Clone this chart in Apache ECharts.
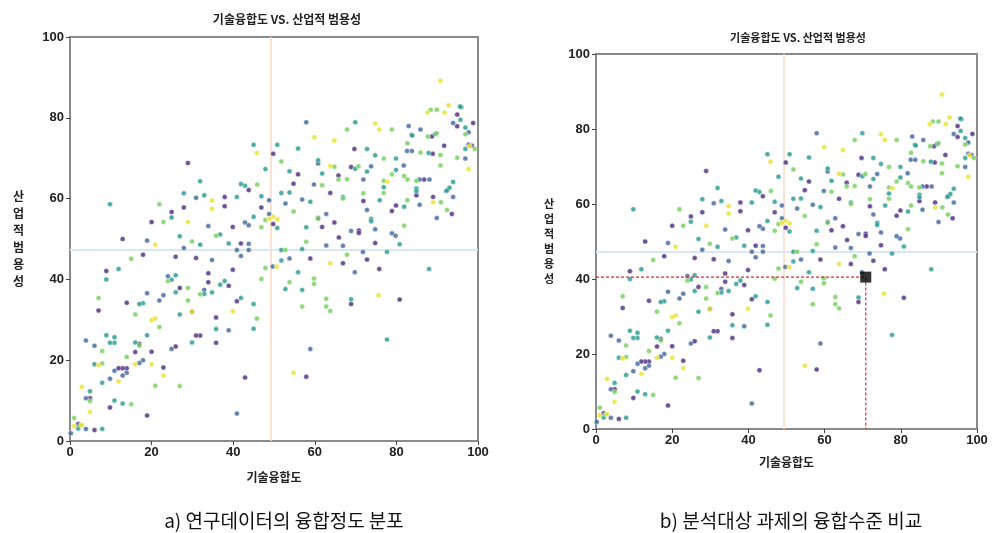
<!DOCTYPE html>
<html><head><meta charset="utf-8">
<script src="https://cdn.jsdelivr.net/npm/echarts@6/dist/echarts.min.js"></script>
<style>html,body{margin:0;padding:0;background:#fff}#c{width:997px;height:533px}</style>
</head><body><div id="c"></div>
<script>
const chartTitle = '기술융합도 VS. 산업적 범용성';
const xName = '기술융합도';
const yName = '산업적범용성';
const captions = ['a) 연구데이터의 융합정도 분포', 'b) 분석대상 과제의 융합수준 비교'];
const xTicks = [0, 20, 40, 60, 80, 100];
const meanX = 49.3;
const meanY = 47.3;
const targetPoint = [70.8, 40.5];

const purplePts = [[94.9,77.9],[94.9,80.8],[98.8,78.7],[88.7,75.4],[69.7,72.3],[88.9,71.1],[91.7,73.1],[98.5,73.1],[93.6,56.2],[89.0,60.4],[86.8,64.7],[84.9,60.8],[78.9,56.9],[79.9,58.3],[71.9,59.4],[74.8,49.0],[75.8,42.6],[80.8,35.0],[72.8,44.9],[70.8,52.1],[70.8,51.5],[68.9,33.9],[68.9,67.8],[66.9,44.0],[65.8,65.7],[65.9,50.4],[64.8,54.1],[63.8,61.4],[61.8,53.0],[60.8,55.2],[58.9,45.2],[57.9,15.9],[55.9,66.0],[54.8,63.7],[49.8,71.1],[49.8,53.7],[46.9,57.8],[43.8,62.1],[42.9,15.7],[41.9,48.9],[40.9,34.6],[39.9,53.0],[39.9,42.4],[38.9,38.4],[37.9,60.4],[37.9,58.1],[35.8,30.6],[35.8,24.3],[33.9,41.5],[33.9,39.3],[31.9,26.1],[30.9,45.3],[30.9,26.1],[29.9,32.0],[28.9,68.8],[27.9,57.8],[26.9,37.9],[25.9,45.6],[25.9,23.4],[24.9,56.7],[22.9,18.2],[20.0,54.2],[20.0,22.1],[18.9,6.3],[17.9,46.1],[17.0,24.0],[16.0,22.0],[13.9,34.2],[13.9,18.0],[12.9,50.0],[12.9,18.0],[11.9,18.0],[9.8,8.3],[8.9,42.1],[7.0,32.3],[6.0,2.7],[4.9,10.6],[2.0,4.2]];
const bluePts = [[93.9,78.7],[97.7,76.4],[83.0,78.0],[85.9,77.1],[57.9,78.9],[82.6,71.8],[83.8,71.8],[96.9,69.9],[97.7,73.4],[92.2,61.9],[93.9,60.4],[89.9,55.2],[88.1,64.7],[85.7,64.7],[85.7,58.5],[79.8,50.8],[78.9,51.4],[81.8,68.2],[73.8,68.0],[71.9,64.7],[72.8,57.2],[74.8,52.4],[71.8,46.8],[69.8,41.8],[68.9,52.0],[66.9,48.3],[62.8,56.2],[62.8,48.4],[60.8,68.7],[59.8,63.5],[58.9,22.8],[56.9,59.8],[53.8,45.2],[52.8,58.8],[48.8,56.2],[48.8,59.6],[49.7,43.2],[43.8,53.4],[43.8,48.8],[43.8,47.3],[42.9,54.1],[41.9,45.8],[40.9,47.3],[40.9,6.8],[38.9,27.4],[34.8,44.8],[33.9,53.2],[32.9,37.4],[30.9,60.2],[27.9,47.8],[24.9,22.8],[24.0,40.8],[22.9,36.1],[21.9,34.8],[18.9,49.6],[18.9,36.6],[17.9,20.0],[17.0,19.3],[13.9,16.9],[12.9,16.2],[10.9,17.4],[9.8,15.4],[6.0,23.6],[3.9,24.9],[3.9,10.6],[3.9,3.0],[0.2,1.9]];
const tealPts = [[95.9,82.6],[95.6,82.8],[95.7,79.5],[96.9,77.6],[89.5,76.0],[83.7,75.8],[83.9,75.6],[69.9,78.9],[72.8,72.3],[87.9,71.3],[96.9,72.3],[92.4,62.0],[93.0,62.7],[93.9,64.1],[84.9,62.5],[84.9,61.8],[81.9,58.0],[80.8,48.7],[79.9,67.1],[79.9,69.9],[76.9,62.8],[75.9,59.6],[74.8,70.7],[72.8,66.7],[73.8,55.0],[73.8,54.4],[77.7,46.8],[77.7,25.1],[88.0,42.6],[68.9,35.1],[69.9,67.4],[66.9,60.4],[61.8,66.2],[60.8,69.5],[58.9,59.2],[57.9,52.9],[56.9,47.5],[56.9,37.4],[55.9,72.4],[55.9,41.8],[53.8,66.8],[53.8,61.5],[52.8,37.6],[51.8,61.4],[51.8,47.3],[51.8,44.7],[50.8,73.3],[50.8,52.7],[47.9,67.3],[46.9,60.6],[45.0,73.3],[45.0,55.5],[45.0,33.9],[45.0,27.8],[42.9,63.2],[41.9,63.6],[41.9,35.4],[40.9,60.4],[38.9,48.9],[37.9,39.6],[36.8,51.1],[36.8,38.7],[35.8,27.7],[34.8,36.8],[32.9,60.8],[32.9,36.4],[31.9,64.3],[31.9,48.6],[29.9,24.4],[27.9,61.3],[26.9,50.7],[26.9,31.3],[25.9,41.0],[25.9,36.8],[24.9,55.3],[24.9,39.9],[18.9,26.2],[17.9,34.1],[17.0,33.9],[16.0,24.4],[12.9,9.3],[11.9,42.6],[10.9,25.7],[10.9,24.3],[10.9,10.0],[9.8,58.6],[9.8,24.3],[8.9,40.0],[8.9,26.2],[7.9,14.4],[7.9,3.0],[6.0,19.0],[4.9,12.3],[2.0,3.1]];
const greenPts = [[89.9,82.0],[88.4,82.0],[96.9,75.9],[89.9,76.2],[87.7,75.4],[78.9,77.1],[67.9,77.1],[82.7,73.7],[85.9,71.4],[90.8,70.8],[94.9,70.1],[99.2,72.3],[90.8,68.2],[90.9,59.1],[92.4,57.2],[84.9,64.4],[82.7,64.7],[81.9,53.3],[81.9,65.6],[78.9,66.0],[76.9,64.4],[76.9,61.4],[76.9,69.9],[71.9,61.3],[67.9,46.1],[67.9,64.8],[70.7,68.0],[66.9,60.0],[65.8,64.7],[64.8,67.9],[62.8,35.2],[62.8,33.3],[63.8,32.2],[61.8,63.3],[60.8,55.0],[59.8,40.2],[59.8,38.9],[57.9,49.3],[56.9,33.3],[54.8,56.8],[53.8,39.3],[52.8,47.3],[51.8,69.2],[47.9,54.7],[47.9,42.8],[46.9,52.9],[46.9,40.1],[45.9,63.5],[45.8,30.3],[35.8,50.8],[31.9,36.3],[29.9,49.4],[28.9,37.9],[28.9,34.8],[26.9,13.6],[24.0,39.6],[22.9,54.2],[21.9,58.6],[21.9,28.2],[20.9,13.7],[17.0,23.6],[16.0,31.3],[15.0,45.1],[15.0,9.1],[13.9,20.8],[7.9,22.3],[7.9,19.2],[7.0,35.4],[4.9,9.9],[1.0,5.7],[2.5,3.9],[82.7,59.6]];
const yellowPts = [[90.8,89.2],[92.8,83.1],[91.8,81.3],[87.6,81.3],[75.8,77.1],[74.8,78.6],[59.9,75.2],[64.8,74.4],[98.0,73.0],[97.7,67.3],[89.0,59.1],[77.8,64.2],[75.6,36.1],[63.8,68.1],[63.8,44.0],[54.8,16.9],[50.8,54.9],[49.8,55.5],[48.8,55.0],[50.7,43.2],[45.8,71.3],[39.9,32.1],[34.8,59.5],[34.8,57.5],[29.9,32.1],[28.9,54.2],[22.9,16.2],[20.9,48.6],[20.9,30.3],[20.0,29.9],[20.0,19.0],[16.0,19.0],[11.9,14.7],[7.0,18.8],[4.9,7.2],[2.9,13.4],[2.9,4.0],[1.0,3.7]];

const groups = [
  {data: purplePts, color: '#4b2d7f'},
  {data: bluePts, color: '#43679c'},
  {data: tealPts, color: '#2a9a8f'},
  {data: greenPts, color: '#78cd5e'},
  {data: yellowPts, color: '#e9e230'}
];

const KR = '"Noto Sans CJK KR", "Noto Sans", sans-serif';
const chart = echarts.init(document.getElementById('c'), null, {renderer: 'canvas'});

function xAxisCfg(gi, gap, fs) {
  return {
    gridIndex: gi, type: 'value', min: 0, max: 100, interval: 20,
    name: xName, nameLocation: 'middle', nameGap: gap,
    nameTextStyle: {fontFamily: KR, fontWeight: 'bold', fontSize: fs, color: '#222'},
    axisLine: {show: false},
    axisTick: {show: true, length: 4, lineStyle: {color: '#444', width: 1}},
    axisLabel: {fontFamily: 'Liberation Sans', fontWeight: 'bold', fontSize: 13, color: '#222', margin: 5},
    splitLine: {show: false}
  };
}
function yAxisCfg(gi, gap, fs, lh) {
  return {
    gridIndex: gi, type: 'value', min: 0, max: 100, interval: 20,
    name: yName.split('').join('\n'), nameLocation: 'middle', nameGap: gap, nameRotate: 0,
    nameTextStyle: {fontFamily: KR, fontWeight: 'bold', fontSize: fs, color: '#222', lineHeight: lh},
    axisLine: {show: false},
    axisTick: {show: true, length: 4, lineStyle: {color: '#444', width: 1}},
    axisLabel: {fontFamily: 'Liberation Sans', fontWeight: 'bold', fontSize: 13, color: '#222', margin: 6},
    splitLine: {show: false}
  };
}

const series = [];
[0, 1].forEach(gi => {
  series.push({
    type: 'scatter', xAxisIndex: gi, yAxisIndex: gi, data: [], z: 1, silent: true,
    markLine: {
      silent: true, symbol: 'none', label: {show: false}, z: 1,
      data: [
        {xAxis: meanX, lineStyle: {color: '#fbd9c6', width: 1.5, type: 'solid'}},
        {yAxis: meanY, lineStyle: {color: '#d8e7f2', width: 2, type: 'solid'}}
      ]
    }
  });
  groups.forEach(g => {
    series.push({
      type: 'scatter', xAxisIndex: gi, yAxisIndex: gi, data: g.data,
      symbolSize: 5,
      itemStyle: {color: g.color, opacity: 0.82, borderColor: 'rgba(255,255,255,0.8)', borderWidth: 0.6},
      silent: true, z: 3
    });
  });
});
series.push({
  type: 'line', xAxisIndex: 1, yAxisIndex: 1,
  data: [[0, targetPoint[1]], targetPoint, [targetPoint[0], 0]],
  symbol: 'none', lineStyle: {color: '#e8262a', width: 1.2, type: [3, 2]}, z: 4, silent: true
});
series.push({
  type: 'scatter', xAxisIndex: 1, yAxisIndex: 1, data: [targetPoint],
  symbol: 'rect', symbolSize: 11, itemStyle: {color: '#000'}, z: 5, silent: true
});

chart.setOption({
  animation: false,
  backgroundColor: '#fff',
  title: [
    {text: chartTitle, left: 282, top: 8, textAlign: 'center',
     textStyle: {fontFamily: KR, fontWeight: 'bold', fontSize: 12, color: '#222'}},
    {text: chartTitle, left: 793, top: 27, textAlign: 'center',
     textStyle: {fontFamily: KR, fontWeight: 'bold', fontSize: 11, color: '#222'}},
    {text: captions[0], left: 279, top: 506, textAlign: 'center',
     textStyle: {fontFamily: KR, fontWeight: 'normal', fontSize: 19, color: '#111'}},
    {text: captions[1], left: 786, top: 506, textAlign: 'center',
     textStyle: {fontFamily: KR, fontWeight: 'normal', fontSize: 19, color: '#111'}}
  ],
  grid: [
    {left: 70, top: 37, width: 408, height: 404, show: true, borderColor: '#8a8a8a', borderWidth: 2, backgroundColor: 'transparent'},
    {left: 596, top: 54, width: 381, height: 375, show: true, borderColor: '#8a8a8a', borderWidth: 2, backgroundColor: 'transparent'}
  ],
  xAxis: [xAxisCfg(0, 30, 12), xAxisCfg(1, 27, 12)],
  yAxis: [yAxisCfg(0, 46, 12, 17), yAxisCfg(1, 42, 11, 15)],
  series: series
});
</script></body></html>
